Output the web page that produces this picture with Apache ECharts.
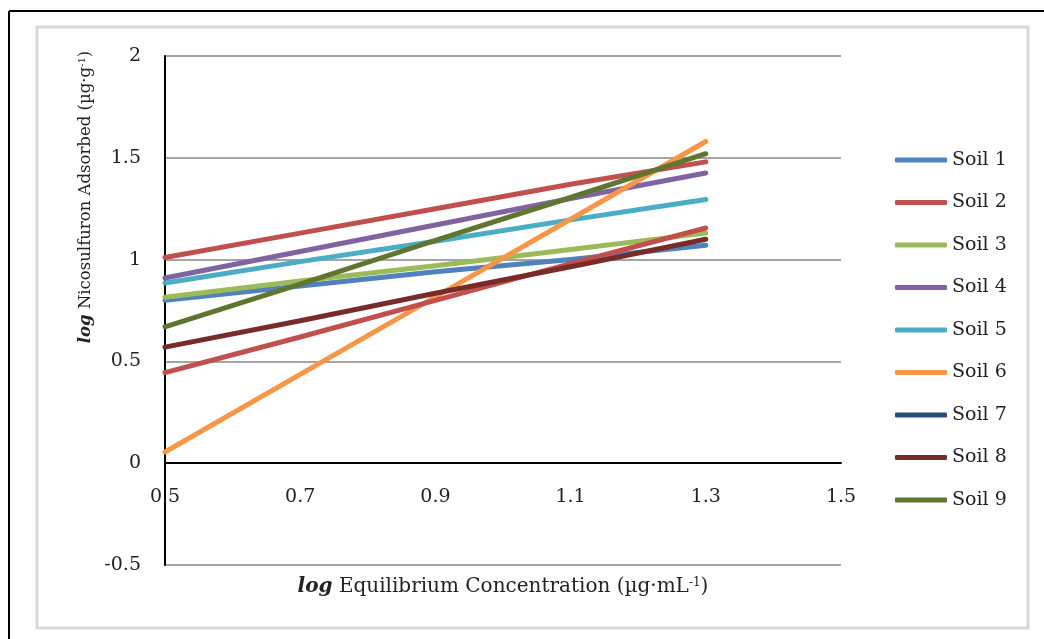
<!DOCTYPE html>
<html>
<head>
<meta charset="utf-8">
<script src="https://cdn.jsdelivr.net/npm/echarts@6/dist/echarts.min.js"></script>
<style>
  html, body { margin: 0; padding: 0; background: #fff; }
  #chart { width: 1044px; height: 639px; }
</style>
</head>
<body>
<div id="chart"></div>
<script>
// log Ce (µg·mL-1) sampled along each isotherm
const logCe = [0.5, 0.7, 0.9, 1.1, 1.3];

// log Cs (µg·g-1) per soil
const soil1 = [0.80, 0.87, 0.94, 1.00, 1.07];
const soil2 = [1.01, 1.13, 1.25, 1.37, 1.48];
const soil3 = [0.815, 0.895, 0.97, 1.05, 1.13];
const soil4 = [0.91, 1.04, 1.17, 1.30, 1.425];
const soil5 = [0.885, 0.99, 1.09, 1.195, 1.295];
const soil6 = [0.055, 0.436, 0.817, 1.198, 1.58];
const soil7 = [0.445, 0.62, 0.80, 0.98, 1.155];
const soil8 = [0.57, 0.70, 0.835, 0.965, 1.10];
const soil9 = [0.67, 0.88, 1.095, 1.305, 1.52];

const soilNames = ['Soil 1', 'Soil 2', 'Soil 3', 'Soil 4', 'Soil 5', 'Soil 6', 'Soil 7', 'Soil 8', 'Soil 9'];
const soilValues = [soil1, soil2, soil3, soil4, soil5, soil6, soil7, soil8, soil9];
const legendColors = ['#4F81BD', '#C0504D', '#9BBB59', '#8064A2', '#4BACC6', '#F79646', '#2C4D75', '#772C2A', '#5F7530'];
const lineColors   = ['#4F81BD', '#C0504D', '#9BBB59', '#8064A2', '#4BACC6', '#F79646', '#C0504D', '#772C2A', '#5F7530'];

const yTicks = { min: -0.5, max: 2, interval: 0.5 };
const xTicks = { min: 0.5, max: 1.5, interval: 0.2 };

const FONT = '"DejaVu Serif", serif';

const chart = echarts.init(document.getElementById('chart'), null, { renderer: 'canvas' });

const series = soilNames.map((name, i) => ({
  name: name,
  type: 'line',
  data: logCe.map((x, k) => [x, soilValues[i][k]]),
  symbol: 'none',
  color: legendColors[i],
  lineStyle: { width: 5, color: lineColors[i], cap: 'round', join: 'round' },
  z: 3
}));

chart.setOption({
  animation: false,
  backgroundColor: '#fff',
  textStyle: { fontFamily: FONT },
  grid: { left: 165, right: 203, top: 56, bottom: 74, containLabel: false },
  xAxis: {
    type: 'value',
    min: xTicks.min, max: xTicks.max, interval: xTicks.interval,
    axisLine: { onZero: true, lineStyle: { color: '#000', width: 2 } },
    axisTick: { show: false },
    splitLine: { show: false },
    axisLabel: {
      margin: -77, color: '#222', fontFamily: FONT, fontSize: 19,
      formatter: v => v.toFixed(1)
    }
  },
  yAxis: {
    type: 'value',
    min: yTicks.min, max: yTicks.max, interval: yTicks.interval,
    axisLine: { show: true, onZero: false, lineStyle: { color: '#000', width: 2 } },
    axisTick: { show: false },
    splitLine: { show: true, lineStyle: { color: '#868686', width: 1.5 } },
    axisLabel: {
      margin: 24, color: '#222', fontFamily: FONT, fontSize: 19,
      formatter: v => (v === 0 || v === 1 || v === 2) ? String(v) : v.toFixed(1)
    }
  },
  legend: {
    orient: 'vertical',
    left: 890,
    top: 144,
    icon: 'roundRect',
    itemWidth: 52,
    itemHeight: 5,
    itemGap: 20.5,
    itemTextGap: 2,
    itemStyle: { borderWidth: 0 },
    formatter: '{t|{name}}',
    textStyle: {
      fontFamily: FONT, fontSize: 19, color: '#222', lineHeight: 22,
      rich: { t: { fontFamily: FONT, fontSize: 19, color: '#222', lineHeight: 22 } }
    },
    data: soilNames.map((n, i) => ({ name: n, itemStyle: { color: legendColors[i] } }))
  },
  graphic: [
    { type: 'rect', shape: { x: 37, y: 27, width: 991, height: 601 },
      style: { fill: 'none', stroke: '#d9d9d9', lineWidth: 3 }, z: 0 },
    { type: 'line', shape: { x1: 9, y1: 11, x2: 1044, y2: 11 },
      style: { stroke: '#000', lineWidth: 2 }, z: 0 },
    { type: 'line', shape: { x1: 9, y1: 11, x2: 9, y2: 639 },
      style: { stroke: '#000', lineWidth: 2 }, z: 0 },
    {
      type: 'text', x: 86, y: 197, rotation: Math.PI / 2, z: 5,
      style: {
        text: '{b|log} Nicosulfuron Adsorbed (µg·g{s|-1})',
        fontFamily: FONT, fontSize: 16.5, fill: '#222',
        align: 'center', verticalAlign: 'middle',
        rich: {
          b: { fontFamily: FONT, fontSize: 16.5, fontWeight: 'bold', fontStyle: 'italic', fill: '#222' },
          s: { fontFamily: FONT, fontSize: 10, fill: '#222', verticalAlign: 'top', padding: [0, 0, 8, 0] }
        }
      }
    },
    {
      type: 'text', x: 503, y: 587, z: 5,
      style: {
        text: '{b|log} Equilibrium Concentration (µg·mL{s|-1})',
        fontFamily: FONT, fontSize: 20, fill: '#222',
        align: 'center', verticalAlign: 'middle',
        rich: {
          b: { fontFamily: FONT, fontSize: 20, fontWeight: 'bold', fontStyle: 'italic', fill: '#222' },
          s: { fontFamily: FONT, fontSize: 12, fill: '#222', verticalAlign: 'top', padding: [0, 0, 9, 0] }
        }
      }
    }
  ],
  series: series
});
</script>
</body>
</html>
